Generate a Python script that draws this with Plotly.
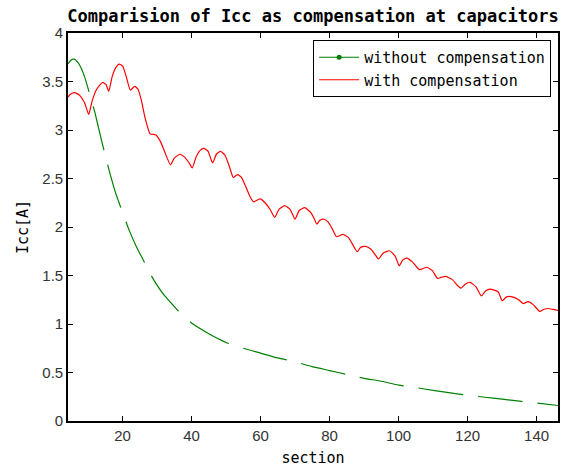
import plotly.graph_objects as go

# ---- data ----
green_x = [4.2, 5, 6, 7, 8, 9, 10, 11, 12, 13, 14, 15, 16, 17, 18, 19, 20, 22, 24, 26, 28, 30, 32, 34, 36, 38, 40,
           45, 50, 55, 60, 65, 70, 75, 80, 85, 90, 95, 100, 105, 110, 115, 120, 125, 130, 135, 140, 146.2]
green_y = [3.68, 3.72, 3.73, 3.70, 3.64, 3.55, 3.43, 3.31, 3.18, 3.03, 2.88, 2.74, 2.60, 2.47, 2.35, 2.25, 2.15, 1.96,
           1.80, 1.66, 1.52, 1.40, 1.30, 1.22, 1.14, 1.07, 1.01,
           0.90, 0.81, 0.75, 0.70, 0.65, 0.61, 0.56, 0.52, 0.48, 0.44, 0.41, 0.37, 0.345, 0.315, 0.29, 0.265, 0.245,
           0.225, 0.205, 0.185, 0.16]

red_x = [4.2, 5, 6.1, 7.5, 9, 10.2, 11.2, 12.5, 14.2, 15.2, 16.0, 17, 18, 19.0, 20, 21, 22.3, 23.5, 24.5, 25.5, 26.5,
         28.0, 29.6, 31, 32.5, 33.9, 35, 36.6, 38, 39.3, 40.2, 41.3, 42.5, 43.5, 44.8, 46.1, 47.2, 48.4, 49.7, 51,
         52.1, 53.3, 54.5, 55.8, 57, 58.0, 59.9, 61.3, 62.8, 64.1, 65.3, 67.0, 68.6, 70.0, 71.2, 72.8, 74.5, 75.5,
         76.3, 77.2, 78.4, 79.6, 80.8, 82.0, 83.9, 85.5, 87, 88.0, 89, 90.4, 92, 93.3, 94.2, 95.5, 97.4, 99, 100.2,
         101.2, 102.4, 104, 105.2, 106.1, 108.2, 109.8, 111.3, 112.3, 113.6, 115.5, 117, 118.1, 119.3, 120.7, 122.5,
         124.0, 125.2, 126.5, 128.9, 130.0, 131.3, 133, 134.8, 136.1, 137.5, 139, 140.9, 142, 143.3, 144.8, 146.2]
red_y = [3.34, 3.37, 3.385, 3.36, 3.28, 3.16, 3.30, 3.42, 3.49, 3.47, 3.40, 3.55, 3.64, 3.68, 3.66, 3.56, 3.41, 3.45,
         3.42, 3.30, 3.13, 2.96, 2.95, 2.88, 2.75, 2.64, 2.71, 2.75, 2.72, 2.66, 2.61, 2.72, 2.79, 2.81, 2.78, 2.66,
         2.75, 2.78, 2.74, 2.62, 2.51, 2.54, 2.51, 2.41, 2.31, 2.26, 2.29, 2.25, 2.18, 2.10, 2.18, 2.22, 2.18, 2.08,
         2.17, 2.20, 2.15, 2.09, 2.03, 2.07, 2.08, 2.05, 1.98, 1.90, 1.925, 1.89, 1.80, 1.745, 1.79, 1.80, 1.77, 1.71,
         1.67, 1.73, 1.755, 1.70, 1.60, 1.66, 1.68, 1.64, 1.59, 1.56, 1.585, 1.55, 1.47, 1.48, 1.49, 1.46, 1.40, 1.37,
         1.41, 1.43, 1.38, 1.29, 1.34, 1.36, 1.33, 1.24, 1.28, 1.28, 1.25, 1.21, 1.23, 1.20, 1.13, 1.15, 1.16, 1.15,
         1.14]

x_ticks = [20, 40, 60, 80, 100, 120, 140]
y_ticks = [0, 0.5, 1, 1.5, 2, 2.5, 3, 3.5, 4]
y_tick_labels = ["0", "0.5", "1", "1.5", "2", "2.5", "3", "3.5", "4"]

GREEN = "#008000"
RED = "#ff0000"
MONO = "DejaVu Sans Mono"
SANS = "Liberation Sans, Arial, sans-serif"

fig = go.Figure()

# legend entry for green (solid line with dot marker, as in reference legend)
fig.add_trace(go.Scatter(x=[None], y=[None], mode="lines+markers", name="without compensation",
                         line=dict(color=GREEN, width=1.2), marker=dict(color=GREEN, size=5)))
fig.add_trace(go.Scatter(x=green_x, y=green_y, mode="lines", showlegend=False,
                         line=dict(color=GREEN, width=1.2, dash="45px,15px", shape="spline", smoothing=0.6),
                         hoverinfo="skip"))
fig.add_trace(go.Scatter(x=red_x, y=red_y, mode="lines", name="with compensation",
                         line=dict(color=RED, width=1.2, shape="spline", smoothing=0.5)))

axis_common = dict(showline=True, linecolor="black", linewidth=1.6, mirror="ticks", ticks="inside",
                   ticklen=5, tickwidth=1, tickcolor="black", showgrid=False, zeroline=False,
                   tickfont=dict(family=SANS, size=15, color="#333"))

fig.update_xaxes(range=[4.2, 146.2], tickvals=x_ticks,
                 title=dict(text="section", font=dict(family=MONO, size=15, color="black"), standoff=10),
                 **axis_common)
fig.update_yaxes(range=[0, 4], tickvals=y_ticks, ticktext=y_tick_labels,
                 title=dict(text="Icc[A]", font=dict(family=MONO, size=15, color="black"), standoff=10),
                 **axis_common)

fig.update_layout(
    width=562, height=468,
    margin=dict(l=68, r=2, t=33, b=47),
    paper_bgcolor="white", plot_bgcolor="white",
    title=dict(text="<b>Comparision of Icc as compensation at capacitors</b>",
               font=dict(family=MONO, size=17, color="black"),
               x=0.5, xref="paper", xanchor="center", y=1 - 16 / 468, yref="container", yanchor="middle"),
    legend=dict(x=0.986, xanchor="right", y=0.982, yanchor="top",
                bordercolor="black", borderwidth=1, bgcolor="white",
                font=dict(family=MONO, size=15, color="black"),
                tracegroupgap=0, itemwidth=40),
    showlegend=True,
)

fig.write_html("out.html")
